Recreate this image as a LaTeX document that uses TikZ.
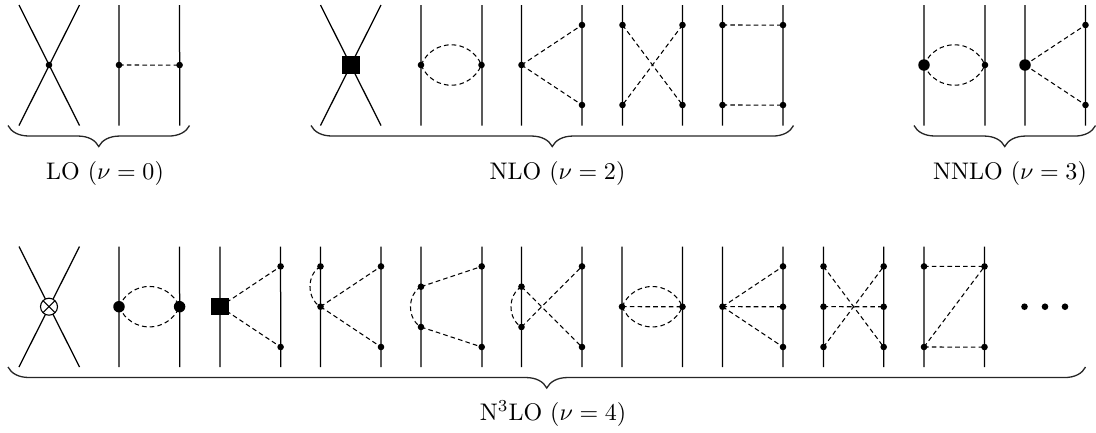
\documentclass[tikz,border=0pt]{standalone}
\usetikzlibrary{decorations.pathreplacing,backgrounds}
\tikzset{
  x=1pt,y=-1pt,
  legline/.style={line width=1.25pt,black},
  dashln/.style={line width=1.05pt,black,dash pattern=on 4.6pt off 3.2pt},
  vsmall/.style={circle,fill=black,inner sep=0pt,minimum size=6.6pt},
  vbig/.style={circle,fill=black,inner sep=0pt,minimum size=11.5pt},
  vsquare/.style={rectangle,fill=black,inner sep=0pt,minimum size=17.5pt},
  votimes/.style={circle,draw=black,fill=white,line width=1.1pt,inner sep=0pt,minimum size=17pt,
    path picture={\draw[line width=1.1pt] (path picture bounding box.north west)--(path picture bounding box.south east)
      (path picture bounding box.north east)--(path picture bounding box.south west);}},
  bracestyle/.style={line width=1.3pt,black!85,decorate,decoration={brace,mirror,amplitude=21pt,aspect=0.5}},
  lab/.style={anchor=base,scale=2.4,inner sep=0pt},
}
% two vertical legs: name, left x, right x, top y (a hair off vertical so they render evenly)
\newcommand{\legs}[4]{%
  \coordinate (#1Lt) at (#2,#4);\coordinate (#1Lb) at (#2+0.06,#4+120.5);
  \coordinate (#1Rt) at (#3,#4);\coordinate (#1Rb) at (#3+0.06,#4+120.5);
  \begin{pgfonlayer}{background}
    \draw[legline] (#1Lt)--(#1Lb) (#1Rt)--(#1Rb);
  \end{pgfonlayer}}
% crossing legs through a vertex
\newcommand{\xlegs}[4]{%
  \coordinate (#1Lt) at (#2,#4);\coordinate (#1Lb) at (#2,#4+120.5);
  \coordinate (#1Rt) at (#3,#4);\coordinate (#1Rb) at (#3,#4+120.5);
  \begin{pgfonlayer}{background}
    \draw[legline] (#1Lt)--(#1Rb) (#1Rt)--(#1Lb);
  \end{pgfonlayer}}
\newcommand{\dline}[2]{\begin{pgfonlayer}{background}\draw[dashln] (#1.center)--(#2.center);\end{pgfonlayer}}
\newcommand{\dloop}[2]{\begin{pgfonlayer}{background}\draw[dashln] (#1.center) .. controls +(12,-27) and +(-12,-27) .. (#2.center);
  \draw[dashln] (#1.center) .. controls +(12,27) and +(-12,27) .. (#2.center);\end{pgfonlayer}}
\newcommand{\dside}[2]{\begin{pgfonlayer}{background}\draw[dashln] (#1.center) .. controls +(-14,8) and +(-14,-8) .. (#2.center);\end{pgfonlayer}}
\begin{document}
\begin{tikzpicture}
\useasboundingbox (0,0) rectangle (1096,432);
% ---------- row 1
\xlegs{a}{19}{79.5}{5}
\node[vsmall] (a1) at (49,65) {};
\legs{b}{119}{179.6}{5}
\node[vsmall] (b1) at (119,65) {};
\node[vsmall] (b2) at (179.6,65.06) {};
\dline{b1}{b2}
\coordinate (bl1) at (8,125.5);\coordinate (bl2) at (189.5,125.56);
\draw[bracestyle] (bl1)--(bl2);
\node[lab] (tl1) at (105,179) {LO ($\nu=0$)};
% NLO
\xlegs{c}{320.5}{381}{5}
\node[vsquare] (c1) at (351,65) {};
\legs{d}{421}{482}{5}
\node[vsmall] (d1) at (421,65) {};
\node[vsmall] (d2) at (481.5,65) {};
\dloop{d1}{d2}
\legs{e}{521.5}{582}{5}
\node[vsmall] (e1) at (521.5,65) {};
\node[vsmall] (e2) at (582,25) {};
\node[vsmall] (e3) at (582,105) {};
\dline{e1}{e2}\dline{e1}{e3}
\legs{f}{622.5}{682.5}{5}
\node[vsmall] (f1) at (622.5,25) {};
\node[vsmall] (f2) at (682.5,25) {};
\node[vsmall] (f3) at (622.5,105) {};
\node[vsmall] (f4) at (682.5,105) {};
\dline{f1}{f4}\dline{f2}{f3}
\legs{g}{722.5}{783}{5}
\node[vsmall] (g1) at (722.5,25) {};
\node[vsmall] (g2) at (783,25.06) {};
\node[vsmall] (g3) at (722.5,105) {};
\node[vsmall] (g4) at (783,105.06) {};
\dline{g1}{g2}\dline{g3}{g4}
\coordinate (bn1) at (311,125.5);\coordinate (bn2) at (793.5,125.56);
\draw[bracestyle] (bn1)--(bn2);
\node[lab] (tl2) at (557.5,179) {NLO ($\nu=2$)};
% NNLO
\legs{h}{924}{985}{5}
\node[vbig] (h1) at (924,65) {};
\node[vsmall] (h2) at (985,65) {};
\dloop{h1}{h2}
\legs{i}{1025}{1085.5}{5}
\node[vbig] (i1) at (1025,65) {};
\node[vsmall] (i2) at (1085.5,25) {};
\node[vsmall] (i3) at (1085.5,105) {};
\dline{i1}{i2}\dline{i1}{i3}
\coordinate (bm1) at (914,125.5);\coordinate (bm2) at (1095.5,125.56);
\draw[bracestyle] (bm1)--(bm2);
\node[lab] (tl3) at (1010,179) {NNLO ($\nu=3$)};
% ---------- row 2
\xlegs{j}{19}{79.5}{246.5}
\node[votimes] (j1) at (49,306.7) {};
\legs{k}{119}{179.6}{246.5}
\node[vbig] (k1) at (119,306.7) {};
\node[vbig] (k2) at (179.6,306.7) {};
\dloop{k1}{k2}
\legs{l}{220}{280.6}{246.5}
\node[vsquare] (l1) at (220,306.7) {};
\node[vsmall] (l2) at (280.6,266.4) {};
\node[vsmall] (l3) at (280.6,347) {};
\dline{l1}{l2}\dline{l1}{l3}
\legs{m}{320.5}{381}{246.5}
\node[vsmall] (m1) at (320.5,266.4) {};
\node[vsmall] (m2) at (320.5,306.7) {};
\node[vsmall] (m3) at (381,266.4) {};
\node[vsmall] (m4) at (381,347) {};
\dside{m1}{m2}\dline{m2}{m3}\dline{m2}{m4}
\legs{n}{421}{482}{246.5}
\node[vsmall] (n1) at (421,286.7) {};
\node[vsmall] (n2) at (421,327) {};
\node[vsmall] (n3) at (481.7,266.4) {};
\node[vsmall] (n4) at (481.7,347) {};
\dside{n1}{n2}\dline{n1}{n3}\dline{n2}{n4}
\legs{o}{521.5}{582}{246.5}
\node[vsmall] (o1) at (521.5,286.7) {};
\node[vsmall] (o2) at (521.5,327) {};
\node[vsmall] (o3) at (582,266.4) {};
\node[vsmall] (o4) at (582,347) {};
\dside{o1}{o2}\dline{o1}{o4}\dline{o2}{o3}
\legs{p}{622}{682.5}{246.5}
\node[vsmall] (p1) at (622,306.7) {};
\node[vsmall] (p2) at (682.5,306.76) {};
\dloop{p1}{p2}\dline{p1}{p2}
\legs{q}{722.5}{783}{246.5}
\node[vsmall] (q1) at (722.5,306.7) {};
\node[vsmall] (q2) at (783,266.4) {};
\node[vsmall] (q3) at (783,306.76) {};
\node[vsmall] (q4) at (783,347) {};
\dline{q1}{q2}\dline{q1}{q3}\dline{q1}{q4}
\legs{r}{823.5}{883.7}{246.5}
\node[vsmall] (r1) at (823.5,266.4) {};
\node[vsmall] (r2) at (823.5,306.7) {};
\node[vsmall] (r3) at (823.5,347) {};
\node[vsmall] (r4) at (883.7,266.4) {};
\node[vsmall] (r5) at (883.7,306.76) {};
\node[vsmall] (r6) at (883.7,347) {};
\dline{r1}{r6}\dline{r2}{r5}\dline{r3}{r4}
\legs{s}{924}{984.5}{246.5}
\node[vsmall] (s1) at (924,266.4) {};
\node[vsmall] (s2) at (984.5,266.46) {};
\node[vsmall] (s3) at (924,347) {};
\node[vsmall] (s4) at (984.5,347.06) {};
\dline{s1}{s2}\dline{s3}{s4}\dline{s3}{s2}
\node[vsmall] (t1) at (1024.5,306.7) {};
\node[vsmall] (t2) at (1045,306.7) {};
\node[vsmall] (t3) at (1065,306.7) {};
\coordinate (bq1) at (8,367);\coordinate (bq2) at (1085.5,367.06);
\draw[bracestyle] (bq1)--(bq2);
\node[lab] (tl4) at (553,420) {N$^3$LO ($\nu=4$)};
\end{tikzpicture}
\end{document}
